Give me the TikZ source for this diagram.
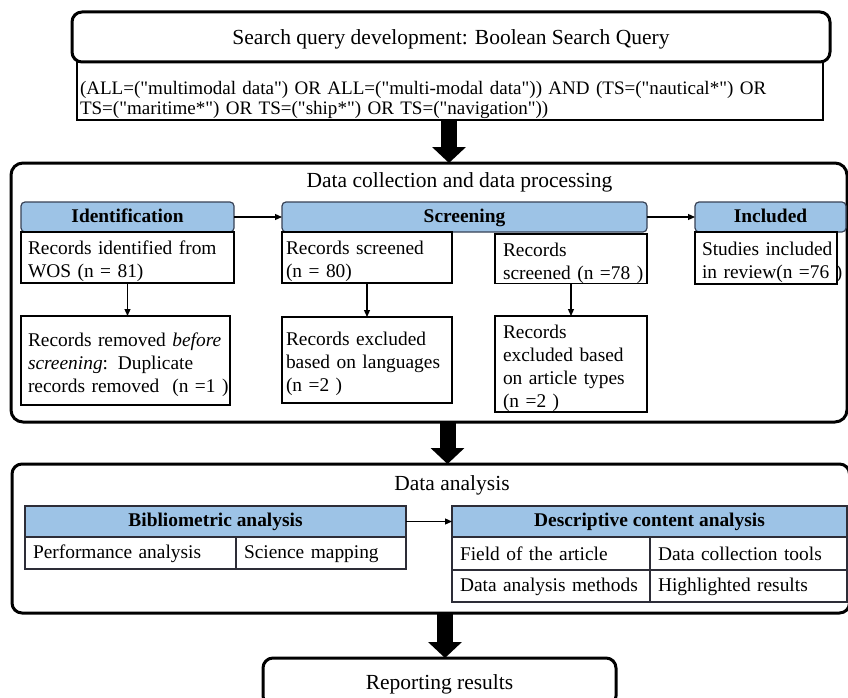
\documentclass[tikz,border=0pt]{standalone}
\usepackage{fontspec}
\setmainfont{Liberation Serif}
\usetikzlibrary{arrows.meta,calc}
\definecolor{hdrfill}{RGB}{157,195,230}
\definecolor{hdrline}{RGB}{55,65,85}
\definecolor{tabline}{RGB}{45,45,55}
\newcommand{\bodyfont}{\fontsize{19.4}{23}\selectfont}
\newcommand{\titlefont}{\fontsize{21.5}{26}\selectfont}
\newcommand{\queryfont}{\fontsize{19.05}{19.6}\selectfont}
% straight double quote, set as a glyph so the TeX ligature mapping leaves it alone
\newcommand{\dq}{\XeTeXglyph\XeTeXcharglyph"22\relax}
\newcommand{\lin}[1]{\mbox{#1}}

\begin{document}
\begin{tikzpicture}[x=1pt,y=-1pt,
  every node/.style={outer sep=0pt},
  bigframe/.style={draw, line width=3pt, rounded corners=12pt, anchor=north west, inner sep=0pt},
  titlebox/.style={draw, line width=3pt, rounded corners=10pt, anchor=north west, inner sep=0pt, font=\titlefont, text depth=0pt},
  heading/.style={inner sep=0pt, font=\titlefont},
  recbox/.style={draw, line width=1.2pt, anchor=north west, inner xsep=7pt, inner ysep=0pt, align=left, font=\bodyfont, text height=22pt},
  stagehdr/.style={draw=hdrline, fill=hdrfill, line width=1.2pt, rounded corners=4pt, anchor=north west, inner sep=0pt, font=\bodyfont\bfseries, text height=13pt, text depth=3pt},
  thead/.style={draw=tabline, fill=hdrfill, line width=1.5pt, anchor=north west, inner sep=0pt, font=\bodyfont\bfseries, text height=13pt, text depth=3pt},
  cell/.style={draw=tabline, line width=1.5pt, anchor=north west, inner xsep=8pt, inner ysep=0pt, align=left, font=\bodyfont, text height=15pt},
  thinarrow/.style={line width=1.2pt, -{Triangle[length=7pt,width=6pt]}},
  bigarrow/.style={line width=16pt, -{Triangle[length=16pt,width=33pt]}}
]
\useasboundingbox (0,0) rectangle (848,698);
\clip (0,0) rectangle (848,698);

% ---- search query ----
\node[titlebox, minimum width=758pt, minimum height=50pt] (sq) at (72,12)
  {Search query development: Boolean Search Query};
\node[recbox, inner xsep=3pt, text width=740pt, minimum height=58pt, font=\queryfont, text height=13.4pt, text depth=6pt] (query) at (77,62)
  {\lin{(ALL=(\dq multimodal data\dq) OR ALL=(\dq multi-modal data\dq)) AND (TS=(\dq nautical*\dq) OR}\\
   \lin{TS=(\dq maritime*\dq) OR TS=(\dq ship*\dq) OR TS=(\dq navigation\dq))}};

% ---- data collection and processing ----
\node[bigframe, minimum width=836pt, minimum height=259pt] (dc) at (11,163) {};
\node[heading] (dctitle) at (459.5,182) {Data collection and data processing};

\node[stagehdr, minimum width=213pt, minimum height=30pt] (ident) at (21,202) {Identification};
\node[stagehdr, minimum width=365pt, minimum height=30pt] (screen) at (282,202) {Screening};
\node[stagehdr, minimum width=151pt, minimum height=30pt] (incl) at (695,202) {Included};

\node[recbox, text width=199pt, minimum height=51pt] (rid) at (21,232)
  {\lin{Records identified from}\\\lin{WOS (n = 81)}};
\node[recbox, text width=195pt, minimum height=89pt] (rrem) at (21,316)
  {\lin{Records removed \textit{before}}\\\lin{\textit{screening}: Duplicate}\\\lin{records removed\ \ (n =1 )}};
\node[recbox, inner xsep=4pt, text width=162pt, minimum height=51pt] (rs80) at (282,232)
  {\lin{Records screened}\\\lin{(n = 80)}};
\node[recbox, inner xsep=4pt, text width=162pt, minimum height=86pt] (rlang) at (282,317)
  {\lin{Records excluded}\\\lin{based on languages}\\\lin{(n =2 )}};
\node[recbox, inner xsep=8pt, text width=136pt, minimum height=49pt] (rs78) at (495,234)
  {\lin{Records}\\\lin{screened (n =78 )}};
\node[recbox, inner xsep=8pt, text width=136pt, minimum height=96pt] (rart) at (495,316)
  {\lin{Records}\\\lin{excluded based}\\\lin{on article types}\\\lin{(n =2 )}};
\node[recbox, inner xsep=7pt, text width=128pt, minimum height=52pt] (stud) at (695,232)
  {\lin{Studies included}\\\lin{in review(n =76 )}};

\draw[thinarrow] (ident.east) -- (screen.west);
\draw[thinarrow] (screen.east) -- (incl.west);
\draw[thinarrow] (rid.south) -- (rid.south |- rrem.north);
\draw[thinarrow] (rs80.south) -- (rs80.south |- rlang.north);
\draw[thinarrow] (rs78.south) -- (rs78.south |- rart.north);

% ---- data analysis ----
\node[bigframe, rounded corners=10pt, minimum width=837.5pt, minimum height=149pt] (da) at (12,464) {};
\node[heading] (datitle) at (452,485) {Data analysis};

\node[thead, minimum width=381pt, minimum height=31pt] (bib) at (25,506) {Bibliometric analysis};
\node[cell, text width=195pt, minimum height=32pt] (perf) at (25,537) {\lin{Performance analysis}};
\node[cell, text width=154pt, minimum height=32pt] (sci) at (236,537) {\lin{Science mapping}};

\node[thead, minimum width=395pt, minimum height=31pt] (desc) at (452,506) {Descriptive content analysis};
\node[cell, text width=182pt, minimum height=33pt] (field) at (452,537) {\lin{Field of the article}};
\node[cell, text width=181pt, minimum height=33pt] (tools) at (650,537) {\lin{Data collection tools}};
\node[cell, text width=182pt, minimum height=32pt] (methods) at (452,570) {\lin{Data analysis methods}};
\node[cell, text width=181pt, minimum height=32pt] (results) at (650,570) {\lin{Highlighted results}};

\draw[thinarrow] (bib.east) -- (desc.west);

% ---- reporting ----
\node[titlebox, minimum width=353pt, minimum height=48pt] (report) at (263,658) {Reporting results};

% ---- stage-to-stage arrows ----
\draw[bigarrow] ([xshift=372pt]query.south west) -- ([xshift=372pt]query.south west |- dc.north);
\draw[bigarrow] ([xshift=436.5pt]dc.south west) -- ([xshift=436.5pt]dc.south west |- da.north);
\draw[bigarrow] ([xshift=433pt]da.south west) -- ([xshift=433pt]da.south west |- report.north);
\end{tikzpicture}
\end{document}
